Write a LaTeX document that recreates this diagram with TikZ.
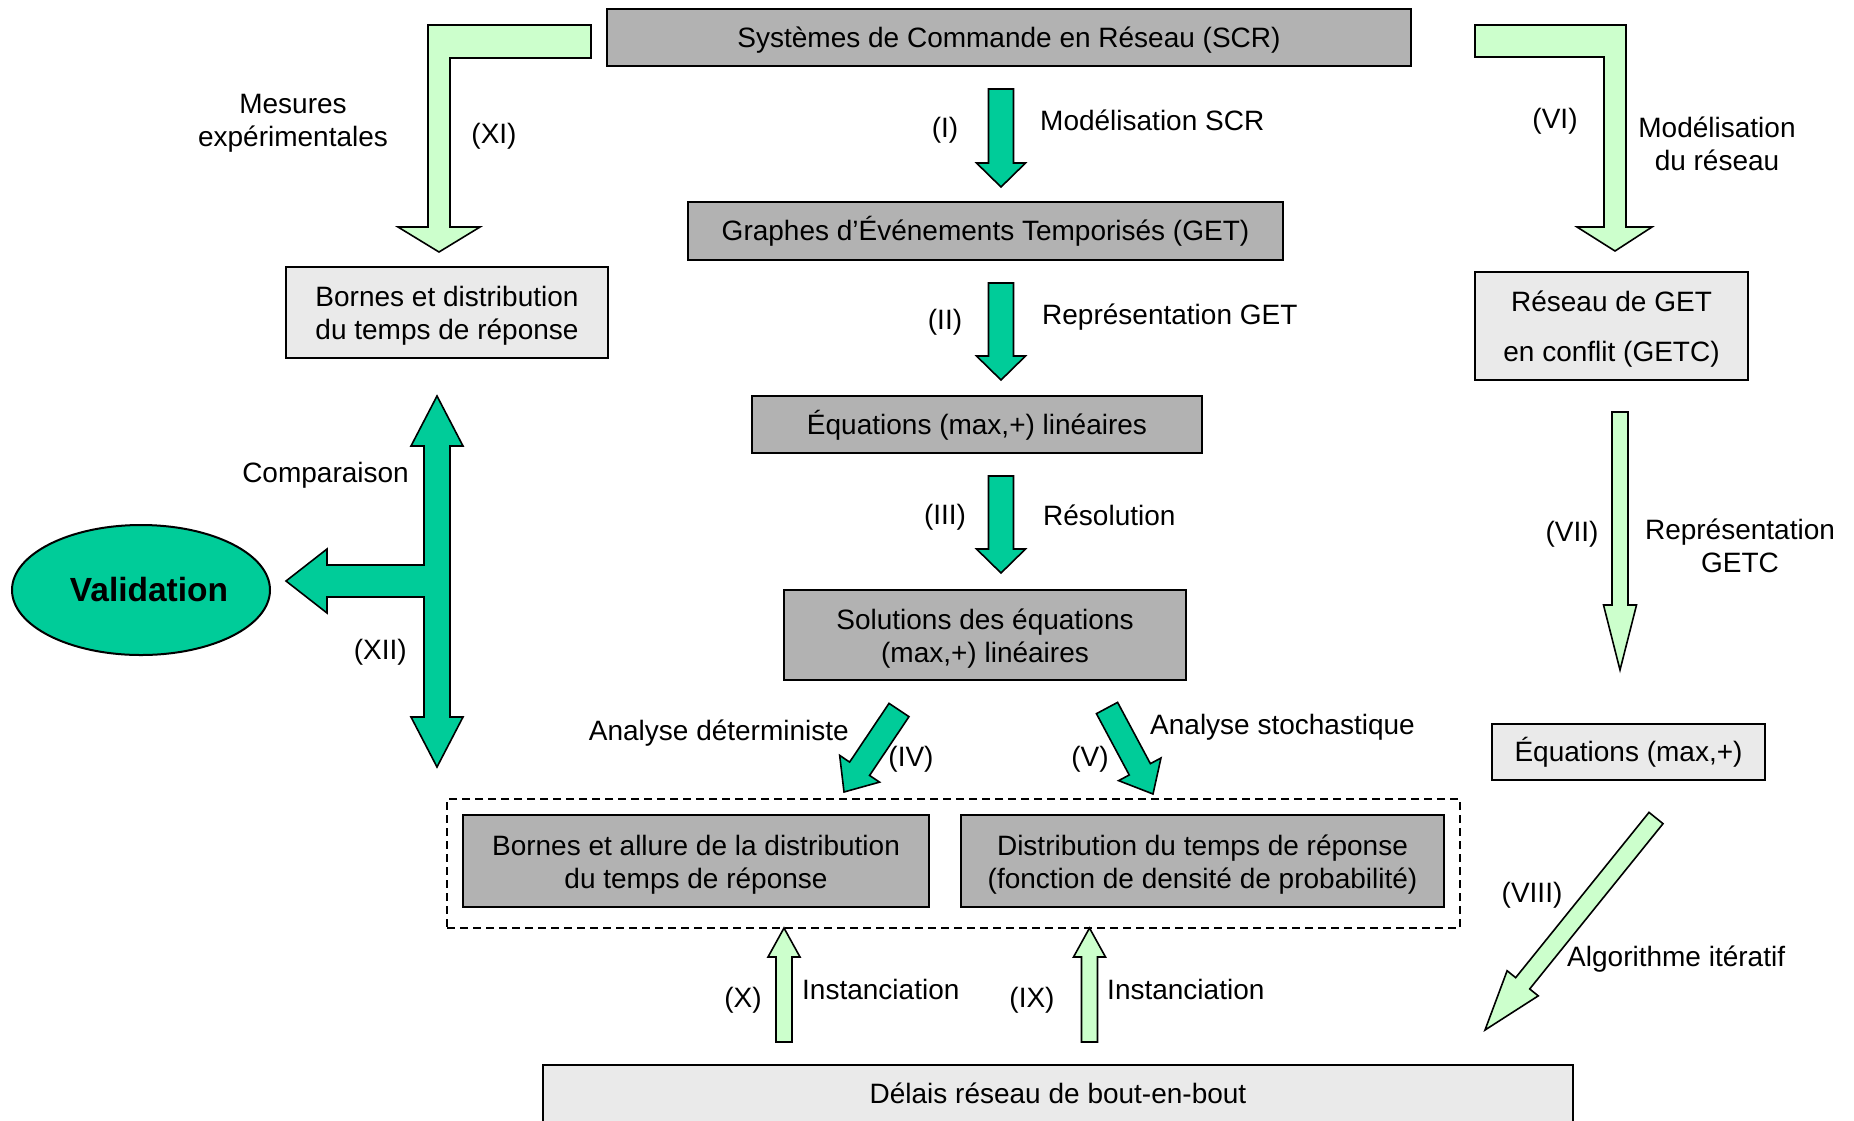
\documentclass[tikz,border=0pt]{standalone}
\usepackage{fontspec}
\setmainfont{Liberation Sans}
\usetikzlibrary{calc,shapes.geometric}
\definecolor{boxdark}{HTML}{B2B2B2}
\definecolor{boxlight}{HTML}{EAEAEA}
\definecolor{arrdark}{HTML}{00CC99}
\definecolor{arrlight}{HTML}{CCFFCC}
\newcommand\pstrut{\rule[-0.212em]{0pt}{1.117em}}
\newcommand\tstrut{\rule{0pt}{0.98em}}
\newcommand\bstrut{\rule[-0.212em]{0pt}{0pt}}
% #1 style, #2 start, #3 tip, #4 half shaft, #5 half head, #6 head length
\newcommand\blkarrow[6]{%
  \coordinate (ba-h) at ($(#3)!#6!(#2)$);
  \draw[#1] ($(#2)!#4!90:(#3)$) -- ($(ba-h)!#4!-90:(#2)$) -- ($(ba-h)!#5!-90:(#2)$)
    -- (#3) -- ($(ba-h)!#5!90:(#2)$) -- ($(ba-h)!#4!90:(#2)$) -- ($(#2)!#4!-90:(#3)$) -- cycle;}
\begin{document}
\begin{tikzpicture}[x=1pt,y=-1pt,
  every node/.style={font=\fontsize{28}{33}\selectfont,
    execute at begin node=\pstrut, execute at end node=\pstrut},
  darkbox/.style={draw, line width=2.4pt, fill=boxdark, inner sep=0pt, align=center},
  lightbox/.style={draw, line width=2.2pt, fill=boxlight, inner sep=0pt, align=center},
  lbl/.style={inner sep=0pt, align=center},
  arrdk/.style={draw, line width=1.6pt, fill=arrdark, line join=miter},
  arrlt/.style={draw, line width=1.6pt, fill=arrlight, line join=miter}]
\clip (0,0) rectangle (1854,1120);
\fill[white] (0,0) rectangle (1854,1120);

% ---------- boxes ----------
\node[darkbox, minimum width=804pt, minimum height=57pt] (scr) at (1009,37.5) {Systèmes de Commande en Réseau (SCR)};
\node[darkbox, minimum width=595pt, minimum height=58pt] (get) at (985.5,231) {Graphes d’Événements Temporisés (GET)};
\node[darkbox, minimum width=450pt, minimum height=57pt] (eqlin) at (977,424.5) {Équations (max,+) linéaires};
\node[darkbox, minimum width=402pt, minimum height=90pt] (sol) at (985,635) {\tstrut Solutions des équations\\(max,+) linéaires\bstrut};

\node[draw, dash pattern=on 8pt off 5pt, line width=2pt, minimum width=1013pt, minimum height=129pt, inner sep=0pt,
  execute at begin node={}, execute at end node={}] (grp) at (953.5,863.5) {};
\node[darkbox, minimum width=466pt, minimum height=92pt] (bal) at (696,861) {\tstrut Bornes et allure de la distribution\\du temps de réponse\bstrut};
\node[darkbox, minimum width=483pt, minimum height=92pt] (dist) at (1202.5,861) {\tstrut Distribution du temps de réponse\\(fonction de densité de probabilité)\bstrut};

\node[lightbox, minimum width=1030pt, minimum height=60pt] (delais) at (1058,1095) {\raisebox{1.5pt}{Délais réseau de bout-en-bout}};

\node[lightbox, minimum width=322pt, minimum height=91pt] (bornes) at (447,312.5) {\tstrut Bornes et distribution\\du temps de réponse\bstrut};
\node[lightbox, minimum width=273pt, minimum height=108pt] (getc) at (1611.5,326) {\tstrut Réseau de GET\\[17pt]en conflit (GETC)\bstrut};
\node[lightbox, minimum width=273pt, minimum height=56pt] (eqmp) at (1628.5,752) {Équations (max,+)};

\node[draw, ellipse, line width=2pt, fill=arrdark, minimum width=258pt, minimum height=130pt, inner sep=0pt,
  execute at begin node={}, execute at end node={},
  font=\fontsize{33.5}{40}\selectfont\bfseries] (valid) at (141,590) {\hspace*{16pt}Validation};

% ---------- straight block arrows ----------
\coordinate (aI-s) at (1001,89);   \coordinate (aI-e) at (1001,187);
\coordinate (aII-s) at (1001,283); \coordinate (aII-e) at (1001,380);
\coordinate (aIII-s) at (1001,476);\coordinate (aIII-e) at (1001,573);
\blkarrow{arrdk}{aI-s}{aI-e}{12.5pt}{24.5pt}{24pt}
\blkarrow{arrdk}{aII-s}{aII-e}{12.5pt}{24.5pt}{24pt}
\blkarrow{arrdk}{aIII-s}{aIII-e}{12.5pt}{24.5pt}{24pt}

\coordinate (aIV-s) at (899,710);  \coordinate (aIV-e) at (844,792);
\coordinate (aV-s) at (1107,708);  \coordinate (aV-e) at (1153,794);
\blkarrow{arrdk}{aIV-s}{aIV-e}{12pt}{24pt}{28pt}
\blkarrow{arrdk}{aV-s}{aV-e}{12pt}{24pt}{28pt}

\coordinate (aVII-s) at (1620,412); \coordinate (aVII-e) at (1620,670);
\blkarrow{arrlt}{aVII-s}{aVII-e}{8pt}{16.5pt}{65pt}
\coordinate (aVIII-s) at (1656,818); \coordinate (aVIII-e) at (1485,1030);
\blkarrow{arrlt}{aVIII-s}{aVIII-e}{9pt}{20pt}{60pt}

\coordinate (aX-s) at (784,1042);   \coordinate (aX-e) at (784,928);
\coordinate (aIX-s) at (1089.5,1042); \coordinate (aIX-e) at (1089.5,928);
\blkarrow{arrlt}{aX-s}{aX-e}{8pt}{16pt}{29pt}
\blkarrow{arrlt}{aIX-s}{aIX-e}{8pt}{16pt}{29pt}

% ---------- L-shaped arrows ----------
\draw[arrlt] (591,25) -- (591,58) -- (450,58) -- (450,227) -- (480,227) -- (439,252)
  -- (398,227) -- (428,227) -- (428,25) -- cycle;
\draw[arrlt] (1475,25) -- (1626,25) -- (1626,227) -- (1652,227) -- (1615,251)
  -- (1577,227) -- (1604,227) -- (1604,57) -- (1475,57) -- cycle;

% ---------- T double arrow (XII) ----------
\draw[arrdk] (437,396) -- (463,446) -- (450,446) -- (450,717) -- (463,717) -- (437,767)
  -- (411,717) -- (424,717) -- (424,597) -- (327,597) -- (327,613) -- (286,581)
  -- (327,549) -- (327,565) -- (424,565) -- (424,446) -- (411,446) -- cycle;

% ---------- labels ----------
\node[lbl] (lmes) at (293,119.5) {\tstrut Mesures\\expérimentales\bstrut};
\node[lbl] (lXI) at (494,134) {(XI)};
\node[lbl] (lI) at (945,128) {(I)};
\node[lbl, anchor=west] (lmod) at (1040,121) {Modélisation SCR};
\node[lbl] (lII) at (945,320) {(II)};
\node[lbl, anchor=west] (lrep) at (1042,315) {Représentation GET};
\node[lbl] (lIII) at (945,515) {(III)};
\node[lbl, anchor=west] (lres) at (1043,516) {Résolution};
\node[lbl] (lVI) at (1555,119) {(VI)};
\node[lbl] (lmodr) at (1717,143) {\tstrut Modélisation\\du réseau\bstrut};
\node[lbl] (lVII) at (1572,532) {(VII)};
\node[lbl] (lrepg) at (1740,545.5) {\tstrut Représentation\\GETC\bstrut};
\node[lbl] (lVIII) at (1532,893) {(VIII)};
\node[lbl, anchor=west] (lalg) at (1567,957) {Algorithme itératif};
\node[lbl, anchor=east] (lcmp) at (409,473) {Comparaison};
\node[lbl, anchor=east] (lXII) at (407,650) {(XII)};
\node[lbl, anchor=east] (ldet) at (849,731) {Analyse déterministe};
\node[lbl] (lIV) at (911,757) {(IV)};
\node[lbl] (lV) at (1090,757) {(V)};
\node[lbl, anchor=west] (lsto) at (1150,725) {Analyse stochastique};
\node[lbl] (lX) at (743,998) {(X)};
\node[lbl, anchor=west] (linst1) at (802,990) {Instanciation};
\node[lbl] (lIX) at (1032,998) {(IX)};
\node[lbl, anchor=west] (linst2) at (1107,990) {Instanciation};
\end{tikzpicture}
\end{document}
